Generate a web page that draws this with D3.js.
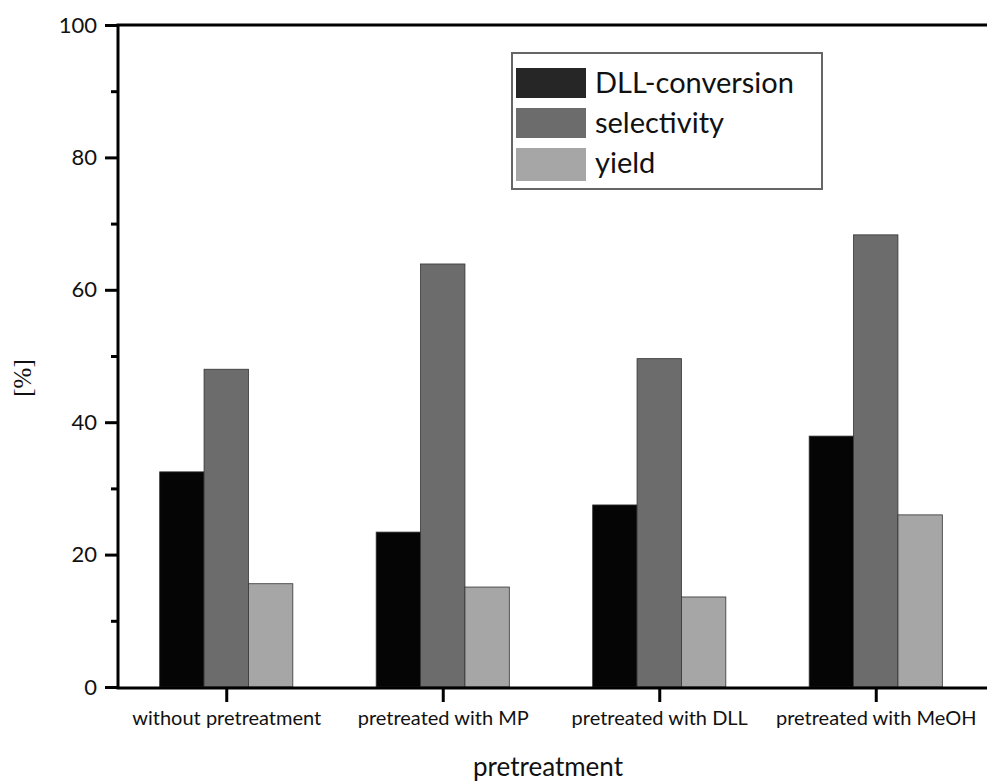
<!DOCTYPE html>
<html>
<head>
<meta charset="utf-8">
<script src="https://cdn.jsdelivr.net/npm/d3@7"></script>
<style>
  html, body { margin: 0; padding: 0; background: #fff; }
  svg text { font-family: Lato, "DejaVu Sans", sans-serif; fill: #111; }
</style>
</head>
<body>
<svg id="chart" width="987" height="784"></svg>
<script>
// Pretreatment comparison: conversion, selectivity and yield (%)
const categories = ["without pretreatment", "pretreated with MP", "pretreated with DLL", "pretreated with MeOH"];
const seriesNames = ["DLL-conversion", "selectivity", "yield"];
const conversion = [32.5, 23.4, 27.5, 37.9];
const selectivity = [48.0, 63.9, 49.6, 68.3];
const yieldVals = [15.6, 15.1, 13.6, 26.0];
const yTicks = [0, 20, 40, 60, 80, 100];
const yMinorTicks = [10, 30, 50, 70, 90];

const seriesValues = [conversion, selectivity, yieldVals];
const barColors = ["#050505", "#6c6c6c", "#a6a6a6"];
const swatchColors = ["#262626", "#6c6c6c", "#a6a6a6"];

const svg = d3.select("#chart");
const frame = { left: 118, right: 987, top: 25, bottom: 688 };

const y = d3.scaleLinear().domain([0, 100]).range([frame.bottom - 1, frame.top]);
// category positions 1..4 on a continuous axis running from 0.5 to 4.5
const xPos = d3.scaleLinear().domain([0.5, 4.5]).range([frame.left, 984]);
const x = d3.scalePoint().domain(categories).range([xPos(1), xPos(4)]);
const step = x.step();
const barW = step * 0.205;

// bars
categories.forEach((c, ci) => {
  seriesValues.forEach((vals, si) => {
    const cx = x(c) + (si - 1) * barW;
    svg.append("rect")
      .attr("x", cx - barW / 2)
      .attr("y", y(vals[ci]))
      .attr("width", barW)
      .attr("height", y(0) - y(vals[ci]))
      .attr("fill", barColors[si])
      .attr("stroke", "#333").attr("stroke-width", 0.8);
  });
});

// axis lines: left, bottom and top
const axisLines = [
  [frame.left, frame.top, frame.left, frame.bottom],
  [frame.left - 1.5, frame.bottom, frame.right, frame.bottom],
  [frame.left - 1.5, frame.top, frame.right, frame.top]
];
axisLines.forEach(([x1, y1, x2, y2]) => {
  svg.append("line").attr("x1", x1).attr("y1", y1).attr("x2", x2).attr("y2", y2)
    .attr("stroke", "#000").attr("stroke-width", 3);
});

// y axis
const yAxis = d3.axisLeft(y).tickValues(yTicks).tickSize(13).tickPadding(8).tickFormat(d3.format("d"));
const gy = svg.append("g").attr("transform", `translate(${frame.left},0)`).call(yAxis);
gy.select(".domain").remove();
gy.selectAll(".tick line").attr("stroke", "#000").attr("stroke-width", 3);
gy.selectAll(".tick text").style("font-size", "22px").style("font-family", "Lato, sans-serif").attr("fill", "#111");

const yMinor = d3.axisLeft(y).tickValues(yMinorTicks).tickSize(7).tickFormat("");
const gym = svg.append("g").attr("transform", `translate(${frame.left},0)`).call(yMinor);
gym.select(".domain").remove();
gym.selectAll(".tick line").attr("stroke", "#000").attr("stroke-width", 3);

// x axis
const xAxis = d3.axisBottom(x).tickSize(14).tickPadding(9);
const gx = svg.append("g").attr("transform", `translate(0,${frame.bottom})`).call(xAxis);
gx.select(".domain").remove();
gx.selectAll(".tick line").attr("stroke", "#000").attr("stroke-width", 3);
gx.selectAll(".tick text").style("font-size", "20px").style("font-family", "Lato, sans-serif").attr("fill", "#111");

// axis titles
svg.append("text")
  .attr("x", 548).attr("y", 776)
  .attr("text-anchor", "middle").style("font-size", "26px")
  .text("pretreatment");

svg.append("text")
  .attr("transform", "translate(31,378) rotate(-90)")
  .attr("text-anchor", "middle")
  .style("font-size", "25px").style("font-family", "'Liberation Serif', serif")
  .text("[%]");

// legend
const legend = svg.append("g");
legend.append("rect")
  .attr("x", 512).attr("y", 53).attr("width", 310).attr("height", 136)
  .attr("fill", "#fff").attr("stroke", "#666").attr("stroke-width", 2);
seriesNames.forEach((name, i) => {
  const ry = 68 + i * 40;
  legend.append("rect")
    .attr("x", 516).attr("y", ry).attr("width", 70).attr("height", 30 + (i === 2 ? 3 : 0))
    .attr("fill", swatchColors[i]);
  legend.append("text")
    .attr("x", 595).attr("y", ry + 25)
    .style("font-size", "29px")
    .text(name);
});
</script>
</body>
</html>
